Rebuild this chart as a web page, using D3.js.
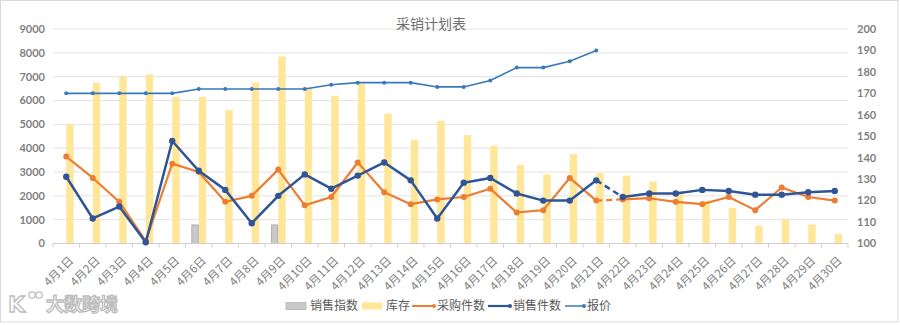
<!DOCTYPE html>
<html>
<head>
<meta charset="utf-8">
<script src="https://cdn.jsdelivr.net/npm/d3@7/dist/d3.min.js"></script>
<style>
  html, body { margin: 0; padding: 0; background: #fff; }
  svg { display: block; }
</style>
</head>
<body>
<svg id="chart" width="900" height="325"></svg>
<script>
// Dates 4/1 .. 4/30
const days = ["4月1日","4月2日","4月3日","4月4日","4月5日","4月6日","4月7日","4月8日","4月9日","4月10日",
  "4月11日","4月12日","4月13日","4月14日","4月15日","4月16日","4月17日","4月18日","4月19日","4月20日",
  "4月21日","4月22日","4月23日","4月24日","4月25日","4月26日","4月27日","4月28日","4月29日","4月30日"];

// 销售指数 (only two days have a value)
const salesIndex = [null,null,null,null,null,800,null,null,800,null,
  null,null,null,null,null,null,null,null,null,null,
  null,null,null,null,null,null,null,null,null,null];

// 库存
const stock = [5000,6750,7000,7100,6150,6150,5600,6750,7850,6550,
  6200,6700,5450,4350,5150,4550,4100,3300,2900,3750,
  2950,2850,2600,2200,1800,1500,750,1000,800,400];

// 采购件数
const purchase = [3650,2750,1750,100,3350,3000,1750,2000,3100,1600,
  1950,3400,2150,1650,1850,1950,2300,1300,1400,2750,
  1800,1850,1900,1750,1650,1950,1400,2350,1950,1800];

// 销售件数
const sales = [2800,1050,1550,50,4300,3050,2250,850,2000,2900,
  2300,2850,3400,2650,1050,2550,2750,2100,1800,1800,
  2650,1950,2100,2100,2250,2200,2050,2050,2150,2200];

// 报价 (right axis, first 21 days)
const price = [170,170,170,170,170,172,172,172,172,172,
  174,175,175,175,173,173,176,182,182,185,190];

const leftTicks = [0,1000,2000,3000,4000,5000,6000,7000,8000,9000];
const rightTicks = [100,110,120,130,140,150,160,170,180,190,200];

// Index where the dashed (planned) segment starts
const dashFrom = 20;

const C = {
  grey: "#C9C9C9", greyEdge: "#A5A5A5", yellow: "#FFE699",
  orange: "#ED7D31", navy: "#2F5597", blue: "#3B78B8",
  grid: "#E3E3E3", axis: "#D0D0D0", text: "#7F7F7F", legend: "#595959"
};

const svg = d3.select("#chart");
const L = 53, R = 848, T = 29, B = 243.5;

// Outer frame
svg.append("rect").attr("x", 0.5).attr("y", 0.5).attr("width", 897.5).attr("height", 321.5)
  .attr("fill", "#fff").attr("stroke", "#D9D9D9").attr("stroke-width", 1);

const x = d3.scaleBand().domain(days).range([L, R]).padding(0);
const bw = x.bandwidth();
const gw = bw * 0.56;
const x1 = d3.scaleBand().domain(["销售指数","库存"]).range([bw/2 - gw/2, bw/2 + gw/2]).padding(0);
const y = d3.scaleLinear().domain([0, 9000]).range([B, T]);
const y2 = d3.scaleLinear().domain([100, 200]).range([B, T]);
const cx = d => x(d) + bw / 2;

// Gridlines
svg.append("g").selectAll("line").data(leftTicks.filter(t => t > 0)).join("line")
  .attr("x1", L).attr("x2", R).attr("y1", d => y(d)).attr("y2", d => y(d))
  .attr("stroke", C.grid).attr("stroke-width", 1);

// Left axis labels
const fontNum = "Lato, 'DejaVu Sans', sans-serif";
svg.append("g").selectAll("text").data(leftTicks).join("text")
  .attr("x", 45).attr("y", d => y(d)).attr("dy", "0.35em")
  .attr("text-anchor", "end").attr("font-family", fontNum).attr("font-weight", "bold")
  .attr("font-size", 11).attr("fill", C.text).text(d => d);

// Right axis labels
svg.append("g").selectAll("text").data(rightTicks).join("text")
  .attr("x", 857).attr("y", d => y2(d)).attr("dy", "0.35em")
  .attr("text-anchor", "start").attr("font-family", fontNum).attr("font-weight", "bold")
  .attr("font-size", 11).attr("fill", C.text).text(d => d);

// Bars
const barG = svg.append("g");
barG.selectAll("rect.stock").data(days).join("rect").attr("class", "stock")
  .attr("x", (d) => x(d) + x1("库存")).attr("width", x1.bandwidth())
  .attr("y", (d, i) => y(stock[i])).attr("height", (d, i) => B - y(stock[i]))
  .attr("fill", C.yellow);
barG.selectAll("rect.idx").data(days.filter((d, i) => salesIndex[i] != null)).join("rect").attr("class", "idx")
  .attr("x", d => x(d) + x1("销售指数") + 0.5).attr("width", x1.bandwidth() - 1)
  .attr("y", d => y(salesIndex[days.indexOf(d)]) + 0.5)
  .attr("height", d => B - y(salesIndex[days.indexOf(d)]) - 0.5)
  .attr("fill", C.grey).attr("stroke", C.greyEdge).attr("stroke-width", 0.8);

// X axis line + ticks
svg.append("line").attr("x1", L).attr("x2", R).attr("y1", B).attr("y2", B)
  .attr("stroke", C.axis).attr("stroke-width", 1);
svg.append("g").selectAll("line").data(d3.range(days.length + 1)).join("line")
  .attr("x1", i => L + i * bw).attr("x2", i => L + i * bw)
  .attr("y1", B).attr("y2", B + 4).attr("stroke", C.axis);

// X labels
const cjk = "'Noto Sans CJK SC', 'Noto Sans', sans-serif";
svg.append("g").selectAll("text").data(days).join("text")
  .attr("transform", d => `translate(${cx(d) + 5},${B + 15}) rotate(-45)`)
  .attr("text-anchor", "end").attr("dy", "0.35em")
  .attr("font-family", cjk).attr("font-size", 11.5).attr("fill", C.text).text(d => d);

// Line series with a dashed planned segment
function drawSeries(vals, color, width, r) {
  const g = svg.append("g");
  const pts = vals.map((v, i) => [cx(days[i]), y(v)]);
  const line = d3.line();
  g.append("path").attr("d", line(pts.slice(0, dashFrom + 1)))
    .attr("fill", "none").attr("stroke", color).attr("stroke-width", width).attr("stroke-linejoin", "round");
  g.append("path").attr("d", line(pts.slice(dashFrom, dashFrom + 2)))
    .attr("fill", "none").attr("stroke", color).attr("stroke-width", width).attr("stroke-dasharray", "6,4");
  g.append("path").attr("d", line(pts.slice(dashFrom + 1)))
    .attr("fill", "none").attr("stroke", color).attr("stroke-width", width).attr("stroke-linejoin", "round");
  g.selectAll("circle").data(pts).join("circle")
    .attr("cx", p => p[0]).attr("cy", p => p[1]).attr("r", r).attr("fill", color);
}
drawSeries(purchase, C.orange, 2.2, 3);
drawSeries(sales, C.navy, 2.5, 3.2);

// 报价 on right axis
const priceG = svg.append("g");
const pricePts = price.map((v, i) => [cx(days[i]), y2(v)]);
priceG.append("path").attr("d", d3.line()(pricePts)).attr("fill", "none")
  .attr("stroke", C.blue).attr("stroke-width", 1.6);
priceG.selectAll("circle").data(pricePts).join("circle")
  .attr("cx", p => p[0]).attr("cy", p => p[1]).attr("r", 2).attr("fill", C.blue);

// Title
svg.append("text").attr("x", 431).attr("y", 24).attr("dy", "0.35em").attr("text-anchor", "middle")
  .attr("font-family", "'Noto Sans CJK SC', sans-serif").attr("font-size", 14)
  .attr("fill", "#6F6F6F").text("采销计划表");

// Legend
const lg = svg.append("g").attr("font-family", cjk).attr("font-size", 12).attr("fill", C.legend);
const ly = 306;
lg.append("rect").attr("x", 286).attr("y", ly - 3.5).attr("width", 20).attr("height", 7)
  .attr("fill", C.grey).attr("stroke", C.greyEdge).attr("stroke-width", 0.6);
lg.append("text").attr("x", 310).attr("y", ly).attr("dy", "0.35em").text("销售指数");
lg.append("rect").attr("x", 362).attr("y", ly - 3.5).attr("width", 20).attr("height", 7).attr("fill", C.yellow);
lg.append("text").attr("x", 386).attr("y", ly).attr("dy", "0.35em").text("库存");
const lineKeys = [
  {x0: 412, x1: 435, color: C.orange, w: 2, tx: 437, name: "采购件数"},
  {x0: 488, x1: 511, color: C.navy, w: 2.2, tx: 513, name: "销售件数"},
  {x0: 565, x1: 585, color: C.blue, w: 1.5, tx: 587, name: "报价"}
];
lineKeys.forEach(k => {
  lg.append("line").attr("x1", k.x0).attr("x2", k.x1).attr("y1", ly).attr("y2", ly)
    .attr("stroke", k.color).attr("stroke-width", k.w);
  lg.append("circle").attr("cx", k.x1 - 1).attr("cy", ly).attr("r", 2).attr("fill", k.color);
  lg.append("text").attr("x", k.tx).attr("y", ly).attr("dy", "0.35em").text(k.name);
});

// Brand mark, bottom left
const wm = svg.append("g").attr("fill", "#fff").attr("stroke", "#BDBDBD").attr("stroke-width", 1.3);
wm.append("text").attr("x", 8).attr("y", 312).attr("font-family", "'DejaVu Sans', sans-serif")
  .attr("font-weight", "bold").attr("font-size", 22).text("K");
wm.append("circle").attr("cx", 32).attr("cy", 295).attr("r", 3.2);
wm.append("circle").attr("cx", 39).attr("cy", 295).attr("r", 3.2);
wm.append("text").attr("x", 46).attr("y", 311).attr("font-family", "'Noto Sans CJK SC', sans-serif")
  .attr("font-weight", "bold").attr("font-size", 18).text("大数跨境");
</script>
</body>
</html>
